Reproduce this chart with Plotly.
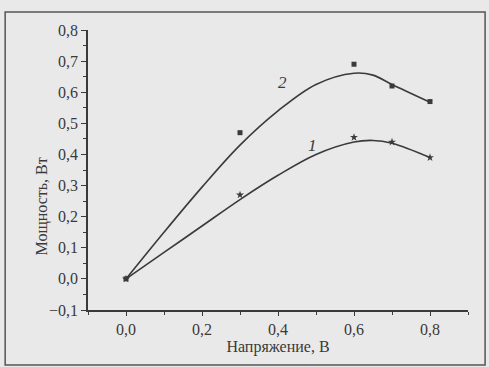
import plotly.graph_objects as go

# measured points
volt_pts = [0.0, 0.3, 0.6, 0.7, 0.8]
power_2 = [0.0, 0.47, 0.69, 0.62, 0.57]
power_1 = [0.0, 0.27, 0.455, 0.44, 0.39]

# fitted curves
fit_x = [0.0, 0.1, 0.2, 0.3, 0.4, 0.5, 0.6, 0.65, 0.7, 0.8]
fit2_y = [0.0, 0.15, 0.295, 0.43, 0.54, 0.625, 0.661, 0.655, 0.625, 0.568]
fit1_y = [0.0, 0.085, 0.17, 0.255, 0.333, 0.40, 0.44, 0.445, 0.436, 0.39]

x_ticks = [0.0, 0.2, 0.4, 0.6, 0.8]
y_ticks = [-0.1, 0.0, 0.1, 0.2, 0.3, 0.4, 0.5, 0.6, 0.7, 0.8]

ink = "#3a3a3a"
bg = "#e9e9e9"
font = "Liberation Serif, Times New Roman, serif"

fig = go.Figure()
fig.add_trace(go.Scatter(x=fit_x, y=fit2_y, mode="lines", line=dict(color=ink, width=1.6, shape="spline", smoothing=1.0), showlegend=False))
fig.add_trace(go.Scatter(x=fit_x, y=fit1_y, mode="lines", line=dict(color=ink, width=1.6, shape="spline", smoothing=1.0), showlegend=False))
fig.add_trace(go.Scatter(x=volt_pts, y=power_2, mode="markers", marker=dict(symbol="square", size=5, color=ink), showlegend=False))
fig.add_trace(go.Scatter(x=volt_pts, y=power_1, mode="markers", marker=dict(symbol="star", size=6, color=ink), showlegend=False))

fig.add_annotation(x=0.413, y=0.632, text="<i>2</i>", showarrow=False, font=dict(family=font, size=17, color=ink))
fig.add_annotation(x=0.492, y=0.429, text="<i>1</i>", showarrow=False, font=dict(family=font, size=17, color=ink))

fig.add_annotation(xref="paper", yref="paper", x=-0.15, y=0.37, text="Мощность, Вт", textangle=-90,
                   showarrow=False, font=dict(family=font, size=16, color=ink))

fig.add_shape(type="rect", xref="paper", yref="paper", x0=-0.218, x1=1.045, y0=-0.196, y1=1.064,
              line=dict(color="#555555", width=1.5))

fig.update_layout(
    width=489, height=367,
    margin=dict(l=88, r=21, t=30, b=57),
    paper_bgcolor=bg, plot_bgcolor=bg,
    separators=", ",
    font=dict(family=font, size=16, color=ink),
    xaxis=dict(range=[-0.1, 0.9], tickvals=x_ticks, tickformat=".1f", showgrid=False, zeroline=False,
               showline=True, linecolor=ink, linewidth=1.5, ticks="outside", ticklen=4, tickcolor=ink,
               tickfont=dict(family=font, size=16, color=ink),
               minor=dict(dtick=0.1, tick0=0, ticks="outside", ticklen=3, tickcolor=ink),
               title=dict(text="Напряжение, В", font=dict(family=font, size=16), standoff=2)),
    yaxis=dict(range=[-0.1, 0.8], tickvals=y_ticks, tickformat=".1f", showgrid=False, zeroline=False,
               showline=True, linecolor=ink, linewidth=1.5, ticks="outside", ticklen=5, tickcolor=ink,
               tickfont=dict(family=font, size=16, color=ink),
               minor=dict(dtick=0.05, tick0=0, ticks="outside", ticklen=3, tickcolor=ink)),
)

fig.write_html("out.html", config={"displayModeBar": False},
               post_script="document.body.style.margin='0';document.body.style.overflow='hidden';")
